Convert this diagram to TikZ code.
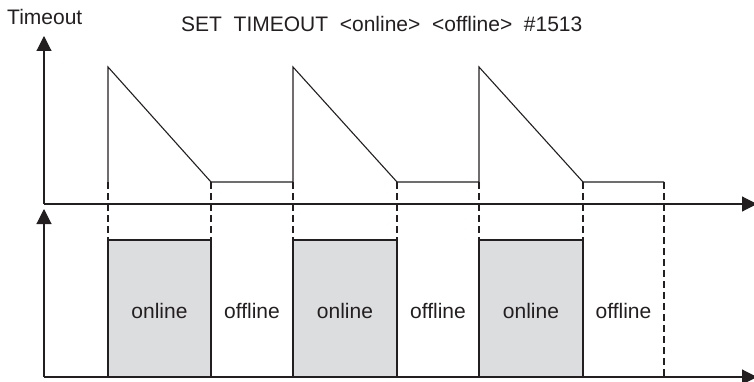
\documentclass[tikz,border=0pt]{standalone}
\usepackage{fontspec}
\setmainfont{Liberation Sans}
\usetikzlibrary{arrows.meta}
\definecolor{ink}{HTML}{231F20}
\definecolor{boxgray}{HTML}{DCDDDF}
\begin{document}
\begin{tikzpicture}[x=1pt,y=-1pt,
  ln/.style={line width=1.1pt,draw=ink,line join=miter},
  axis/.style={ln,-{Triangle[length=15pt,width=15pt]}},
  dsh/.style={line width=1.1pt,draw=ink,dash pattern=on 7pt off 4pt},
  onbox/.style={ln,fill=boxgray},
  lbl/.style={font=\fontsize{21}{25}\selectfont,text=ink,inner sep=0pt,anchor=base}]
\useasboundingbox (0,0) rectangle (754,382);
% origins
\coordinate (o1) at (44,204);
\coordinate (o2) at (44,377);
\coordinate (t1) at (44,36);
\coordinate (t2) at (44,209);
\coordinate (r1) at (757,204);
\coordinate (r2) at (757,377);
% texts
\node[lbl,anchor=base west] (ytitle) at (7,25) {Timeout};
\node[lbl,anchor=base west] (title) at (181,32) {SET\ \ TIMEOUT\ \ <online>\ \ <offline>\ \ \#1513};
% boxes
\foreach \a/\b/\n in {108/211/1,293/397/2,479/583/3}{
  \draw[onbox] (\a,377) rectangle (\b,240);
  \node[lbl] (on\n) at ({(\a+\b)/2},318) {online};
}
\foreach \a/\b/\n in {211/293/1,397/479/2,583/664/3}{
  \node[lbl] (off\n) at ({(\a+\b)/2},318) {offline};
}
% dashed guides
\foreach \x in {108,211,293,397,479,583}{
  \draw[dsh] (\x,182) -- (\x,240);
}
\draw[dsh] (664,182) -- (664,377);
% sawtooth
\draw[ln] (108,182) -- (108,67) -- (211,182) -- (293,182) -- (293,67) -- (397,182)
  -- (479,182) -- (479,67) -- (583,182) -- (664,182);
% axes
\draw[axis] (o1) -- (t1);
\draw[axis] (o1) -- (r1);
\draw[axis] (o2) -- (t2);
\draw[axis] (o2) -- (r2);
\end{tikzpicture}
\end{document}
